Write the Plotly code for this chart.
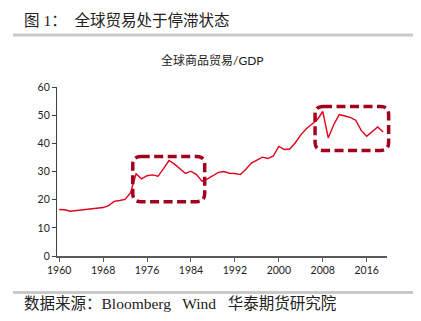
import plotly.graph_objects as go

# World merchandise trade as a share of GDP (%)
years = list(range(1960, 2020))
trade_gdp = [
    16.5, 16.4, 15.9, 16.1, 16.4, 16.5, 16.8, 16.9, 17.2, 17.9,   # 1960-1969
    19.4, 19.7, 20.1, 22.5, 29.2, 27.4, 28.5, 28.8, 28.3, 31.0,   # 1970-1979
    33.9, 32.6, 30.9, 29.3, 30.1, 28.9, 26.6, 27.4, 28.5, 29.7,   # 1980-1989
    30.0, 29.4, 29.3, 28.9, 30.8, 33.0, 34.0, 35.1, 34.6, 35.5,   # 1990-1999
    38.9, 37.8, 38.0, 40.2, 43.0, 45.2, 46.8, 48.4, 51.3, 41.9,   # 2000-2009
    46.6, 50.2, 49.7, 49.2, 48.2, 44.6, 42.5, 44.0, 45.8, 44.0,   # 2010-2019
]
x_ticks = [1960, 1968, 1976, 1984, 1992, 2000, 2008, 2016]
y_ticks = [0, 10, 20, 30, 40, 50, 60]

# Highlighted periods: (x0, x1, y0, y1) in data units
highlight_boxes = [
    (1973.4, 1986.5, 19.3, 35.3),
    (2006.6, 2020.0, 37.5, 53.1),
]

title_text = "图 1：  全球贸易处于停滞状态"
chart_title = "全球商品贸易/GDP"
source_text = "数据来源：Bloomberg   Wind   华泰期货研究院"

LINE_RED = "#E0001B"
BOX_RED = "#A3001E"
CJK_SERIF = "Liberation Serif, Noto Sans CJK SC"
SANS = "Lato, Noto Sans CJK SC"

X_RANGE = [1959.6, 2019.7]
Y_RANGE = [0, 60]

fig = go.Figure()
fig.add_trace(go.Scatter(
    x=years, y=trade_gdp, mode="lines",
    line=dict(color=LINE_RED, width=1.4),
    hoverinfo="skip", showlegend=False,
))


def to_paper_x(v):
    return (v - X_RANGE[0]) / (X_RANGE[1] - X_RANGE[0])


def to_paper_y(v):
    return (v - Y_RANGE[0]) / (Y_RANGE[1] - Y_RANGE[0])


def rounded_rect(x0, x1, y0, y1, rx=0.024, ry=0.048):
    # boxes are placed in paper units so the dashed frame may run past the axis end
    x0, x1, y0, y1 = to_paper_x(x0), to_paper_x(x1), to_paper_y(y0), to_paper_y(y1)
    return (
        f"M {x0 + rx},{y1} L {x1 - rx},{y1} Q {x1},{y1} {x1},{y1 - ry} "
        f"L {x1},{y0 + ry} Q {x1},{y0} {x1 - rx},{y0} "
        f"L {x0 + rx},{y0} Q {x0},{y0} {x0},{y0 + ry} "
        f"L {x0},{y1 - ry} Q {x0},{y1} {x0 + rx},{y1} Z"
    )


shapes = []
for (bx0, bx1, by0, by1) in highlight_boxes:
    shapes.append(dict(
        type="path", xref="paper", yref="paper",
        path=rounded_rect(bx0, bx1, by0, by1),
        line=dict(color=BOX_RED, width=3.5, dash="9px,4.5px"),
        fillcolor="rgba(0,0,0,0)", layer="above",
    ))

# Grey separator rules above the chart and above the source note
for y_pos in (1.308, -0.216):
    shapes.append(dict(
        type="line", xref="paper", yref="paper",
        x0=-0.1333, x1=1.0788, y0=y_pos, y1=y_pos,
        line=dict(color="#C9C9C9", width=3),
    ))

annotations = [
    dict(text=title_text, xref="paper", yref="paper",
         x=-0.106, y=1.396, xanchor="left", yanchor="middle",
         showarrow=False, font=dict(family=CJK_SERIF, size=15.5, color="#222222")),
    dict(text=chart_title, xref="paper", yref="paper",
         x=0.47, y=1.154, xanchor="center", yanchor="middle",
         showarrow=False, font=dict(family=SANS, size=12, color="#222222")),
    dict(text=source_text, xref="paper", yref="paper",
         x=-0.106, y=-0.281, xanchor="left", yanchor="middle",
         showarrow=False, font=dict(family=CJK_SERIF, size=15.5, color="#222222")),
]

fig.update_layout(
    width=421, height=321,
    margin=dict(l=57, r=34, t=87, b=65),
    paper_bgcolor="white", plot_bgcolor="white",
    shapes=shapes, annotations=annotations,
    xaxis=dict(
        range=X_RANGE, tickvals=x_ticks,
        ticktext=[str(v) for v in x_ticks],
        showgrid=False, zeroline=False,
        showline=True, linecolor="#595959", linewidth=1.5,
        ticks="outside", ticklen=4, tickcolor="#595959",
        tickfont=dict(family=SANS, size=10.5, color="#222222"),
    ),
    yaxis=dict(
        range=Y_RANGE, tickvals=y_ticks,
        showgrid=False, zeroline=False,
        showline=True, linecolor="#404040", linewidth=1.2,
        ticks="outside", ticklen=4, tickcolor="#404040",
        tickfont=dict(family=SANS, size=10.5, color="#222222"),
    ),
)

fig.write_html("out.html")
